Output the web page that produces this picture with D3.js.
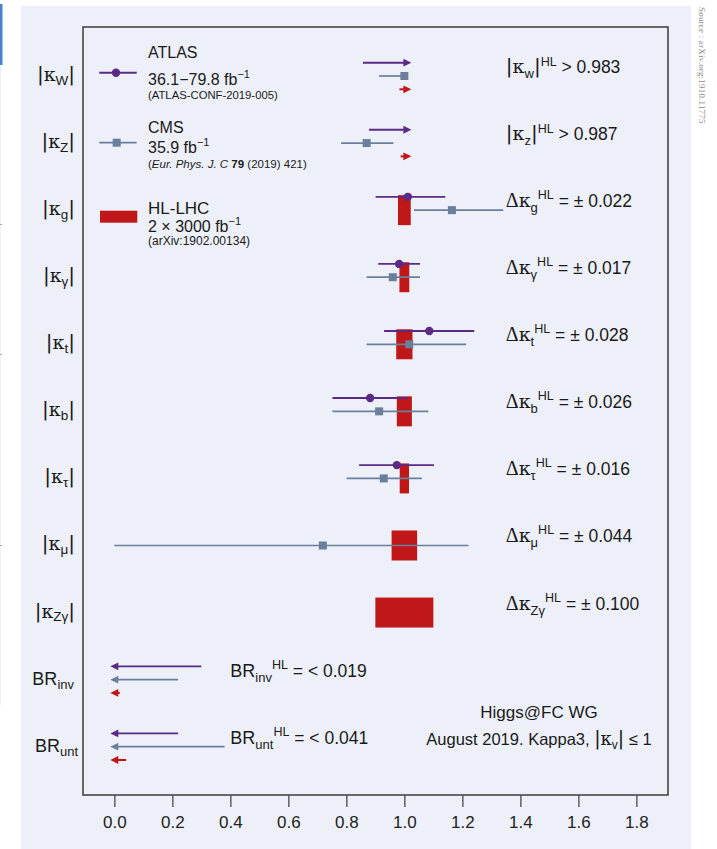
<!DOCTYPE html>
<html><head><meta charset="utf-8">
<script src="https://cdn.jsdelivr.net/npm/d3@7/dist/d3.min.js"></script>
<style>
html,body{margin:0;padding:0;background:#fff;}
svg{display:block;}
text{white-space:pre;fill:#1a1a1a;}
.sans{font-family:"Liberation Sans",Arial,sans-serif;}
.narrow{font-family:"Liberation Sans Narrow","Liberation Sans",Arial,sans-serif;}
.serif{font-family:"Liberation Serif","DejaVu Serif",serif;}
.kap{font-family:"DejaVu Serif","Liberation Serif",serif;}
.bar{font-family:"DejaVu Sans","Liberation Sans",sans-serif;}
</style></head><body>
<svg id="chart" width="717" height="849"></svg>
<script>
// ---------- data ----------
const rowKeys   = ["W","Z","g","gamma","t","b","tau","mu","Zgamma","inv","unt"];
const rowPrefix = ["κ","κ","κ","κ","κ","κ","κ","κ","κ","BR","BR"];
const rowSubs   = ["W","Z","g","γ","t","b","τ","μ","Zγ","inv","unt"];
const annotSubs = ["w","z","g","γ","t","b","τ","μ","Zγ","inv","unt"];

const xTicks      = [0.0,0.2,0.4,0.6,0.8,1.0,1.2,1.4,1.6,1.8];
const xTickLabels = ["0.0","0.2","0.4","0.6","0.8","1.0","1.2","1.4","1.6","1.8"];

// ATLAS 36.1-79.8 fb-1
const atlasType    = ["lower","lower","interval","interval","interval","interval","interval",null,null,"upper","upper"];
const atlasCentral = [null,null,1.012,0.982,1.086,0.882,0.974,null,null,null,null];
const atlasLow     = [0.857,0.878,0.901,0.910,0.930,0.752,0.844,null,null,0,0];
const atlasHigh    = [1,1,1.141,1.054,1.241,1.012,1.102,null,null,0.30,0.22];

// CMS 35.9 fb-1
const cmsType    = ["interval","interval","interval","interval","interval","interval","interval","interval",null,"upper","upper"];
const cmsCentral = [1.0,0.870,1.164,0.960,1.017,0.913,0.929,0.719,null,null,null];
const cmsLow     = [0.913,0.782,1.033,0.870,0.870,0.752,0.801,0.0,null,0,0];
const cmsHigh    = [1.0,0.962,1.341,1.054,1.213,1.083,1.060,1.221,null,0.22,0.38];

// HL-LHC 2 x 3000 fb-1
const hlType  = ["lower","lower","pm","pm","pm","pm","pm","pm","pm","upper","upper"];
const hlValue = [0.983,0.987,0.022,0.017,0.028,0.026,0.016,0.044,0.100,0.019,0.041];
const hlLabel = ["0.983","0.987","0.022","0.017","0.028","0.026","0.016","0.044","0.100","0.019","0.041"];

// ---------- style ----------
const PURPLE = "#5b2a85", GREY = "#6a7f9b", RED = "#c01718", BG = "#edf0f8", FRAME = "#3a3a3a";

const svg = d3.select("#chart");
const W = 717, H = 849;
const frame = {l:83, t:27, r:668, b:795};

// page backdrop
svg.append("rect").attr("x",0).attr("y",0).attr("width",W).attr("height",H).attr("fill","#fff");
svg.append("rect").attr("x",21).attr("y",6).attr("width",670).attr("height",H-6).attr("fill",BG);
// left page-edge artefacts
svg.append("rect").attr("x",0).attr("y",4).attr("width",2.5).attr("height",61).attr("fill","#4a82c8");
svg.append("line").attr("x1",0.5).attr("x2",0.5).attr("y1",65).attr("y2",705).attr("stroke","#eef1f7");
[224,354,545].forEach(yy=>svg.append("rect").attr("x",0).attr("y",yy).attr("width",2).attr("height",1).attr("fill","#8fb0dc"));

// source
svg.append("text").attr("class","serif").attr("font-size",9).attr("letter-spacing",0.2)
  .attr("transform","translate(699,7) rotate(90)").style("fill","#8c8c8c")
  .text("Source : arXiv.org:1910.11775");

const x = d3.scaleLinear().domain([-0.108,1.909]).range([frame.l, frame.r]);
const y = d3.scalePoint().domain(rowKeys).range([76,746.7]);

const OFF_ATLAS = -13.3, OFF_CMS = 0, OFF_HL = 13.3, BAR_H = 15;

// frame
svg.append("rect").attr("x",frame.l).attr("y",frame.t).attr("width",frame.r-frame.l).attr("height",frame.b-frame.t)
  .attr("fill","none").attr("stroke",FRAME).attr("stroke-width",1.5);

// axis
const axis = d3.axisBottom(x).tickValues(xTicks).tickFormat((d,i)=>xTickLabels[i]).tickSize(12);
const ax = svg.append("g").attr("transform",`translate(0,${frame.b})`).call(axis);
ax.select(".domain").remove();
ax.selectAll(".tick line").attr("stroke","#555").attr("stroke-width",1.4);
ax.selectAll(".tick text").attr("class","sans").attr("font-size",17).attr("y",33).attr("dy",0).style("fill","#222");

const marks = svg.append("g");

function arrow(g, v0, v1, yy, color, dir, w) {
  g.append("line").attr("x1",x(v0)).attr("x2",x(v1)).attr("y1",yy).attr("y2",yy)
    .attr("stroke",color).attr("stroke-width",w);
  const tip = dir > 0 ? x(v1) + 7 : x(v1) - 4;
  const base = tip - dir*8;
  g.append("path").attr("d",`M${tip},${yy}L${base},${yy-3.9}L${base},${yy+3.9}Z`).attr("fill",color);
}

// HL-LHC bars & arrows (behind)
rowKeys.forEach((k,i)=>{
  const cy = y(k);
  if (hlType[i]==="pm") {
    marks.append("rect").attr("x",x(1-hlValue[i])).attr("width",x(1+hlValue[i])-x(1-hlValue[i]))
      .attr("y",cy-BAR_H).attr("height",2*BAR_H).attr("fill",RED);
  } else if (hlType[i]==="lower") {
    arrow(marks, hlValue[i], 1, cy+OFF_HL, RED, 1, 2);
  } else if (hlType[i]==="upper") {
    arrow(marks, hlValue[i], 0, cy+OFF_HL, RED, -1, 2);
  }
});

// CMS
rowKeys.forEach((k,i)=>{
  const cy = y(k)+OFF_CMS, t = cmsType[i];
  if (!t) return;
  if (t==="interval") {
    marks.append("line").attr("x1",x(cmsLow[i])).attr("x2",x(cmsHigh[i])).attr("y1",cy).attr("y2",cy)
      .attr("stroke",GREY).attr("stroke-width",1.7);
    marks.append("rect").attr("x",x(cmsCentral[i])-4).attr("y",cy-4).attr("width",8).attr("height",8).attr("fill",GREY);
  } else if (t==="upper") {
    arrow(marks, cmsHigh[i], cmsLow[i], cy, GREY, -1, 1.7);
  }
});

// ATLAS
rowKeys.forEach((k,i)=>{
  const cy = y(k)+OFF_ATLAS, t = atlasType[i];
  if (!t) return;
  if (t==="interval") {
    marks.append("line").attr("x1",x(atlasLow[i])).attr("x2",x(atlasHigh[i])).attr("y1",cy).attr("y2",cy)
      .attr("stroke",PURPLE).attr("stroke-width",1.9);
    marks.append("circle").attr("cx",x(atlasCentral[i])).attr("cy",cy).attr("r",4.2).attr("fill",PURPLE);
  } else if (t==="lower") {
    arrow(marks, atlasLow[i], atlasHigh[i], cy, PURPLE, 1, 1.9);
  } else if (t==="upper") {
    arrow(marks, atlasHigh[i], atlasLow[i], cy, PURPLE, -1, 1.9);
  }
});

// rich-text helper
function rich(sel, segs) {
  segs.forEach(s=>{
    const t = sel.append("tspan").text(s.t);
    if (s.cls) t.attr("class", s.cls);
    if (s.size) t.attr("font-size", s.size);
    if (s.dy) t.attr("dy", s.dy);
    if (s.italic) t.attr("font-style","italic");
    if (s.bold) t.attr("font-weight","bold");
  });
}

// left row labels
rowKeys.forEach((k,i)=>{
  const cy = y(k);
  if (rowPrefix[i]==="κ") {
    const t = svg.append("text").attr("x",75).attr("y",cy+5).attr("text-anchor","end");
    rich(t,[{t:"|",cls:"bar",size:20},{t:"κ",cls:"kap",size:19},{t:rowSubs[i],cls:"narrow",size:13.5,dy:3.5},{t:"|",cls:"bar",size:20,dy:-3.5}]);
  } else {
    const t = svg.append("text").attr("x",i===10?78:74).attr("y",cy+5).attr("text-anchor","end");
    rich(t,[{t:"BR",cls:"narrow",size:18},{t:rowSubs[i],cls:"narrow",size:13,dy:4}]);
  }
});

// right annotations
rowKeys.forEach((k,i)=>{
  const cy = y(k);
  const ty = hlType[i];
  const t = svg.append("text").attr("x", ty==="upper" ? x(0.4) : x(1.35)).attr("y", cy-3);
  if (ty==="lower") {
    rich(t,[{t:"|",cls:"bar",size:20},{t:"κ",cls:"kap",size:19},{t:annotSubs[i],cls:"narrow",size:13,dy:4.5},{t:"|",cls:"bar",size:20,dy:-4.5},
            {t:"HL",cls:"narrow",size:12.5,dy:-7},{t:" > "+hlLabel[i],cls:"sans",size:17.5,dy:7}]);
  } else if (ty==="pm") {
    rich(t,[{t:"Δ",cls:"serif",size:20},{t:"κ",cls:"kap",size:19},{t:annotSubs[i],cls:"narrow",size:13,dy:5},
            {t:"HL",cls:"narrow",size:12.5,dy:-13},{t:" = ± "+hlLabel[i],cls:"sans",size:17.5,dy:8}]);
  } else {
    rich(t,[{t:"BR",cls:"narrow",size:18},{t:annotSubs[i],cls:"narrow",size:13,dy:5},
            {t:"HL",cls:"narrow",size:12.5,dy:-12.5},{t:" = < "+hlLabel[i],cls:"sans",size:17.5,dy:7.5}]);
  }
});

// legend
const lg = svg.append("g");
lg.append("line").attr("x1",99.3).attr("x2",136.7).attr("y1",72.7).attr("y2",72.7).attr("stroke",PURPLE).attr("stroke-width",1.9);
lg.append("circle").attr("cx",116).attr("cy",72.7).attr("r",4.2).attr("fill",PURPLE);
lg.append("line").attr("x1",99.3).attr("x2",136.7).attr("y1",142.7).attr("y2",142.7).attr("stroke",GREY).attr("stroke-width",1.7);
lg.append("rect").attr("x",112.7).attr("y",138.7).attr("width",8).attr("height",8).attr("fill",GREY);
lg.append("rect").attr("x",100).attr("y",210.7).attr("width",37.3).attr("height",12).attr("fill",RED);

function ltext(yy, segs){ const t = lg.append("text").attr("x",148).attr("y",yy); rich(t, segs); }
ltext(58.3,[{t:"ATLAS",cls:"sans",size:16}]);
ltext(85,[{t:"36.1−79.8 fb",cls:"sans",size:16},{t:"−1",cls:"sans",size:11,dy:-7}]);
ltext(99.3,[{t:"(ATLAS-CONF-2019-005)",cls:"sans",size:11.3}]);
ltext(133.3,[{t:"CMS",cls:"sans",size:16}]);
ltext(153.3,[{t:"35.9 fb",cls:"sans",size:16},{t:"−1",cls:"sans",size:11,dy:-7}]);
ltext(168.3,[{t:"(",cls:"sans",size:11.5},{t:"Eur. Phys. J. C ",cls:"sans",size:11.5,italic:true},{t:"79",cls:"sans",size:11.5,bold:true},{t:" (2019) 421)",cls:"sans",size:11.5}]);
ltext(214.3,[{t:"HL-LHC",cls:"narrow",size:17}]);
ltext(231.7,[{t:"2 × 3000 fb",cls:"sans",size:16},{t:"−1",cls:"sans",size:11,dy:-7}]);
ltext(245,[{t:"(arXiv:1902.00134)",cls:"sans",size:12}]);

// footnote
svg.append("text").attr("class","narrow").attr("font-size",17).attr("x",539).attr("y",718).attr("text-anchor","middle").text("Higgs@FC WG");
const fn = svg.append("text").attr("x",539).attr("y",745).attr("text-anchor","middle");
rich(fn,[{t:"August 2019. Kappa3, ",cls:"sans",size:16.5},{t:"|",cls:"bar",size:19},{t:"κ",cls:"kap",size:18},{t:"v",cls:"narrow",size:12,dy:4},{t:"|",cls:"bar",size:19,dy:-4},{t:" ≤ 1",cls:"sans",size:16.5}]);
</script>
</body></html>
